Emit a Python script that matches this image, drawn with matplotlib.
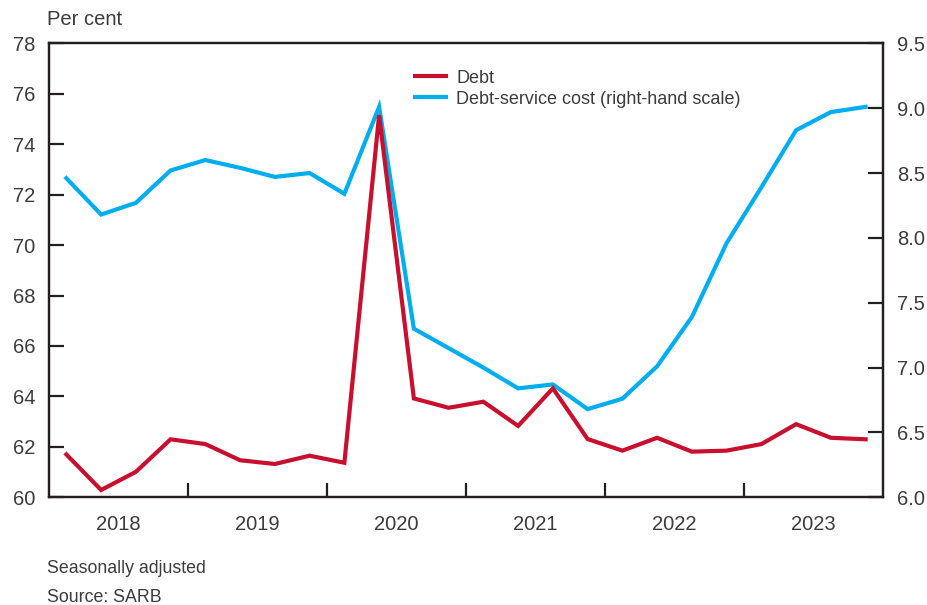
import matplotlib

matplotlib.use("Agg")

import matplotlib.pyplot as plt
import numpy as np

# quarterly data, 2018Q1 .. 2023Q4
YEARS = [2018, 2019, 2020, 2021, 2022, 2023]
DEBT = [
    61.70, 60.29, 61.01, 62.30,
    62.11, 61.47, 61.32, 61.65,
    61.37, 75.15, 63.92, 63.55,
    63.79, 62.83, 64.32, 62.31,
    61.85, 62.36, 61.81, 61.85,
    62.11, 62.90, 62.36, 62.30,
]
DEBT_SERVICE = [
    8.46, 8.18, 8.27, 8.52,
    8.60, 8.54, 8.47, 8.50,
    8.34, 9.01, 7.30, 7.15,
    7.00, 6.84, 6.87, 6.68,
    6.76, 7.01, 7.39, 7.96,
    8.39, 8.83, 8.97, 9.01,
]
LEFT_TICKS = [60, 62, 64, 66, 68, 70, 72, 74, 76, 78]
RIGHT_TICKS = [6.0, 6.5, 7.0, 7.5, 8.0, 8.5, 9.0, 9.5]

RED = "#c8102e"
BLUE = "#00aeef"
SPINE = "#231f20"
TEXT = "#3c3c3c"

plt.rcParams["font.family"] = ["Liberation Sans", "DejaVu Sans"]

quarters = np.arange(len(DEBT))
x = YEARS[0] + (quarters + 0.5) / 4

fig = plt.figure(figsize=(9.28, 6.05), dpi=100)
ax = fig.add_axes([0.0528, 0.178, 0.8987, 0.7504])
ax2 = ax.twinx()

ax.plot(x, DEBT, color=RED, linewidth=3, label="Debt", solid_joinstyle="miter")
ax2.plot(x, DEBT_SERVICE, color=BLUE, linewidth=3,
         label="Debt-service cost (right-hand scale)", solid_joinstyle="miter")

# keep the red line above the blue one
ax.set_zorder(ax2.get_zorder() + 1)
ax.patch.set_visible(False)

ax.set_xlim(YEARS[0], YEARS[-1] + 1)
ax.set_ylim(60, 78)
ax2.set_ylim(6.0, 9.5)
ax.set_yticks(LEFT_TICKS)
ax2.set_yticks(RIGHT_TICKS)
ax2.set_yticklabels([f"{v:.1f}" for v in RIGHT_TICKS])

# year boundaries as major ticks, labels centred on the years
ax.set_xticks(YEARS[1:])
ax.set_xticklabels([])
ax.set_xticks([y + 0.5 for y in YEARS], minor=True)
ax.set_xticklabels([str(y) for y in YEARS], minor=True)
ax.tick_params(axis="x", which="major", direction="in", length=10, width=1.6, color=SPINE)
ax.tick_params(axis="x", which="minor", length=0, pad=13, labelsize=14.5, labelcolor=TEXT)
ax.tick_params(axis="y", direction="in", length=11, width=1.6, color=SPINE,
               pad=10, labelsize=14.5, labelcolor=TEXT)
ax2.tick_params(axis="y", direction="in", length=11, width=1.6, color=SPINE,
                pad=10, labelsize=14.5, labelcolor=TEXT)

for a in (ax, ax2):
    for spine in a.spines.values():
        spine.set_color(SPINE)
        spine.set_linewidth(1.6)

handles = ax.get_lines() + ax2.get_lines()
ax.legend(handles, [h.get_label() for h in handles], loc="upper left",
          bbox_to_anchor=(0.419, 0.978), frameon=False, fontsize=13,
          handlelength=1.75, handletextpad=0.55, labelspacing=0.22, labelcolor=TEXT)

fig.text(0.051, 0.968, "Per cent", fontsize=14.5, color=TEXT, va="center")
fig.text(0.051, 0.06, "Seasonally adjusted", fontsize=12.8, color=TEXT, va="center")
fig.text(0.051, 0.012, "Source: SARB", fontsize=12.8, color=TEXT, va="center")

fig.savefig("out.png", dpi=100)
plt.close(fig)
